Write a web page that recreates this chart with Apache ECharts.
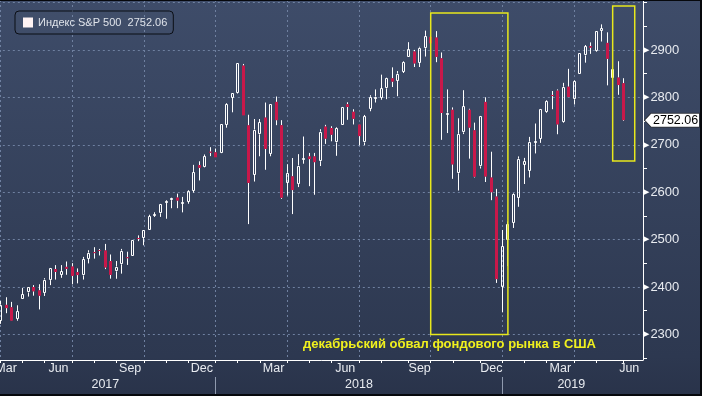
<!DOCTYPE html>
<html><head><meta charset="utf-8">
<script src="https://cdn.jsdelivr.net/npm/echarts@6/dist/echarts.min.js"></script>
<style>
html,body{margin:0;padding:0;background:#000;overflow:hidden;}
#c{position:absolute;left:0;top:0;width:702px;height:396px;}
.edge{position:absolute;background:#06080c;}
</style></head><body>
<div id="c"></div>
<div class="edge" style="left:0;top:0;width:702px;height:1px"></div>
<div class="edge" style="left:0;top:394px;width:702px;height:2px"></div>
<div class="edge" style="left:700px;top:0;width:2px;height:396px"></div>
<script>
// ---- data ----
const weeks = [
'2017-03-31','2017-04-07','2017-04-14','2017-04-21','2017-04-28','2017-05-05','2017-05-12','2017-05-19','2017-05-26','2017-06-02',
'2017-06-09','2017-06-16','2017-06-23','2017-06-30','2017-07-07','2017-07-14','2017-07-21','2017-07-28','2017-08-04','2017-08-11',
'2017-08-18','2017-08-25','2017-09-01','2017-09-08','2017-09-15','2017-09-22','2017-09-29','2017-10-06','2017-10-13','2017-10-20',
'2017-10-27','2017-11-03','2017-11-10','2017-11-17','2017-11-24','2017-12-01','2017-12-08','2017-12-15','2017-12-22','2017-12-29',
'2018-01-05','2018-01-12','2018-01-19','2018-01-26','2018-02-02','2018-02-09','2018-02-16','2018-02-23','2018-03-02','2018-03-09',
'2018-03-16','2018-03-23','2018-03-30','2018-04-06','2018-04-13','2018-04-20','2018-04-27','2018-05-04','2018-05-11','2018-05-18',
'2018-05-25','2018-06-01','2018-06-08','2018-06-15','2018-06-22','2018-06-29','2018-07-06','2018-07-13','2018-07-20','2018-07-27',
'2018-08-03','2018-08-10','2018-08-17','2018-08-24','2018-08-31','2018-09-07','2018-09-14','2018-09-21','2018-09-28','2018-10-05',
'2018-10-12','2018-10-19','2018-10-26','2018-11-02','2018-11-09','2018-11-16','2018-11-23','2018-11-30','2018-12-07','2018-12-14',
'2018-12-21','2018-12-28','2019-01-04','2019-01-11','2019-01-18','2019-01-25','2019-02-01','2019-02-08','2019-02-15','2019-02-22',
'2019-03-01','2019-03-08','2019-03-15','2019-03-22','2019-03-29','2019-04-05','2019-04-12','2019-04-19','2019-04-26','2019-05-03',
'2019-05-10','2019-05-17','2019-05-24','2019-05-31','2019-06-07','2019-06-14','2019-06-21'
];
const open = [
2329.1,2362.3,2357.2,2332.6,2374.2,2388.5,2400.0,2393.0,2387.2,2414.5,
2437.8,2425.9,2442.5,2443.3,2431.4,2424.5,2459.5,2473.0,2477.1,2477.1,
2454.9,2433.0,2447.9,2462.3,2464.5,2502.5,2503.2,2521.2,2550.2,2555.6,
2578.1,2583.2,2588.7,2577.8,2579.5,2602.7,2657.2,2652.2,2685.5,2684.2,
2683.7,2742.7,2799.0,2809.2,2867.2,2741.1,2636.8,2722.0,2757.4,2681.1,
2790.5,2741.4,2619.4,2633.5,2617.2,2670.1,2675.4,2675.5,2665.4,2738.5,
2735.4,2705.1,2741.7,2785.6,2769.7,2742.9,2705.0,2775.6,2796.9,2799.2,
2819.0,2840.3,2835.5,2853.9,2884.7,2897.0,2872.5,2903.8,2927.7,2926.3,
2882.5,2763.8,2773.9,2640.0,2726.4,2773.9,2730.7,2654.6,2790.5,2630.9,
2590.8,2400.6,2498.8,2535.6,2588.1,2657.9,2645.0,2706.5,2712.4,2769.3,
2804.4,2814.4,2747.6,2822.6,2796.0,2848.6,2888.5,2908.3,2898.8,2940.6,
2915.0,2840.2,2841.9,2830.0
];
const high = [
2370.4,2378.4,2368.6,2361.4,2398.2,2399.3,2404.0,2405.8,2418.7,2440.2,
2446.2,2446.2,2453.8,2450.4,2439.2,2463.5,2477.6,2484.0,2480.4,2490.9,
2468.6,2454.8,2480.4,2474.5,2500.2,2508.9,2519.4,2552.5,2557.7,2575.4,
2583.0,2588.4,2597.0,2590.1,2604.2,2657.7,2665.2,2679.6,2695.0,2692.1,
2743.5,2787.9,2810.3,2872.9,2870.6,2763.4,2754.4,2754.4,2789.2,2786.6,
2801.9,2752.0,2659.1,2672.1,2680.3,2717.5,2682.9,2682.9,2732.9,2742.1,
2739.2,2736.9,2779.9,2789.8,2775.0,2743.3,2763.0,2804.6,2816.8,2848.0,
2841.6,2863.4,2855.6,2876.2,2916.5,2900.2,2906.8,2940.9,2939.9,2939.9,
2894.8,2816.9,2778.9,2756.0,2815.2,2776.0,2746.8,2760.9,2800.2,2685.4,
2607.0,2520.3,2538.1,2597.8,2675.5,2672.4,2716.7,2744.9,2775.7,2794.2,
2813.5,2816.9,2830.7,2860.3,2836.0,2893.4,2910.5,2916.1,2939.9,2954.1,
2937.3,2875.0,2876.3,2840.5
];
const low = [
2322.3,2344.7,2328.5,2328.9,2374.2,2379.8,2381.7,2352.7,2381.1,2403.9,
2415.7,2419.4,2425.8,2405.7,2407.7,2415.7,2449.8,2459.9,2466.5,2437.8,
2417.6,2417.4,2428.2,2446.6,2464.5,2496.7,2488.0,2520.4,2547.9,2547.9,
2544.0,2566.2,2566.3,2557.5,2575.7,2599.0,2624.8,2651.5,2676.1,2673.6,
2682.4,2736.1,2768.6,2808.1,2762.1,2532.7,2622.5,2675.8,2647.3,2675.8,
2741.4,2585.9,2593.0,2553.8,2610.8,2660.1,2612.7,2594.6,2655.2,2701.9,
2707.4,2676.8,2741.7,2752.7,2742.9,2698.7,2699.0,2770.8,2789.2,2795.0,
2796.3,2821.9,2802.5,2851.5,2884.7,2864.1,2864.1,2886.2,2904.7,2874.3,
2710.5,2724.8,2628.2,2603.5,2722.6,2670.8,2631.1,2650.0,2621.5,2583.2,
2408.6,2346.6,2444.0,2524.6,2569.2,2617.3,2631.1,2681.8,2704.1,2767.6,
2775.1,2722.3,2746.2,2800.5,2785.0,2848.6,2873.3,2891.9,2896.4,2917.9,
2825.4,2801.4,2805.5,2750.5
];
const close = [
2362.7,2355.5,2329.0,2348.7,2384.2,2399.3,2390.9,2381.7,2415.8,2439.1,
2431.8,2433.2,2438.3,2423.4,2425.2,2459.3,2472.5,2472.1,2476.8,2441.3,
2425.6,2443.1,2476.6,2461.4,2500.2,2502.2,2519.4,2549.3,2553.2,2575.2,
2581.1,2587.8,2582.3,2578.9,2602.4,2642.2,2651.5,2675.8,2683.3,2673.6,
2743.2,2786.2,2810.3,2872.9,2762.1,2619.6,2732.2,2747.3,2691.3,2786.6,
2752.0,2588.3,2640.9,2604.5,2656.3,2670.1,2669.9,2663.4,2727.7,2713.0,
2721.3,2734.6,2779.0,2779.7,2754.9,2718.4,2759.8,2801.3,2801.8,2818.8,
2840.4,2833.3,2850.1,2874.7,2901.5,2871.7,2905.0,2929.7,2914.0,2885.6,
2767.1,2767.8,2658.7,2723.1,2781.0,2736.3,2632.6,2760.2,2633.1,2600.0,
2416.6,2485.7,2531.9,2596.3,2670.7,2664.8,2706.5,2707.9,2775.6,2792.7,
2803.7,2743.1,2822.5,2800.7,2834.4,2892.7,2907.4,2905.0,2939.9,2945.6,
2881.4,2859.5,2826.1,2752.06
];
const seriesName = 'Индекс S&P 500';
const yTickLabels = [2300, 2400, 2500, 2600, 2700, 2800, 2900];
const yMinorTicks = [2250, 2300, 2350, 2400, 2450, 2500, 2550, 2600, 2650, 2700, 2750, 2800, 2850, 2900, 2950, 3000];
const yGridValues = [2300, 2400, 2500, 2600, 2700, 2800, 2900, 3000];
const quarterMonths = { 3: 'Mar', 6: 'Jun', 9: 'Sep', 12: 'Dec' };
const crashBox = ['2018-09-28', 2300, '2019-01-04', 2978];
const recentBox = ['2019-05-17', 2666, '2019-06-14', 2993];
const annotation = 'декабрьский обвал фондового рынка в США';

// ---- helpers ----
const N = weeks.length;
const mkey = i => weeks[i].slice(0, 7);
const ykey = i => weeks[i].slice(0, 4);
const monthEnd = i => i < N - 1 && mkey(i + 1) !== mkey(i);
const yearEnd = i => i < N - 1 && ykey(i + 1) !== ykey(i);
const quarterEnd = i => i === 0 || (monthEnd(i) && !!quarterMonths[+weeks[i].slice(5, 7)]);

function groupLabels(keyFn, textFn, lo, hi) {
  const out = {};
  let i = 0;
  while (i < N) {
    let j = i;
    while (j + 1 < N && keyFn(j + 1) === keyFn(i)) j++;
    const t = textFn(i);
    if (t) {
      let mid = (i - 1 + j) / 2;
      mid = Math.max(lo, Math.min(hi, mid));
      const k = Math.floor(mid);
      out[k] = { text: t, half: mid - k > 0.25 };
    }
    i = j + 1;
  }
  return out;
}
const monthLabels = groupLabels(mkey, i => quarterMonths[+weeks[i].slice(5, 7)], 1, N - 3);
const yearLabels = groupLabels(ykey, i => ykey(i), 0, N - 1);

const candles = open.map((o, i) => [i, o, close[i], low[i], high[i]]);
const boxes = [crashBox, recentBox].map(b => [weeks.indexOf(b[0]), b[1], weeks.indexOf(b[2]), b[3]]);
const lastClose = close[close.length - 1];

const tag = document.createElement('canvas');
tag.width = 120; tag.height = 30;
(function () {
  const g = tag.getContext('2d');
  g.beginPath(); g.moveTo(1, 15); g.lineTo(15, 1); g.lineTo(119, 1); g.lineTo(119, 29); g.lineTo(15, 29); g.closePath();
  g.fillStyle = '#ffffff'; g.fill(); g.strokeStyle = '#30343c'; g.lineWidth = 2; g.stroke();
})();

const FONT = 'Liberation Sans';
const TXT = '#e8ebf0';
const GRID = '#6f80a0';

function renderCandle(params, api) {
  const i = api.value(0), o = api.value(1), c = api.value(2), l = api.value(3), h = api.value(4);
  const pO = api.coord([i, o]), pC = api.coord([i, c]), pL = api.coord([i, l]), pH = api.coord([i, h]);
  const x = Math.floor(pO[0]) + 0.5;
  let top = Math.min(pO[1], pC[1]), bot = Math.max(pO[1], pC[1]);
  if (bot - top < 1) { const m = (top + bot) / 2; top = m - 0.5; bot = m + 0.5; }
  const white = '#ffffff', red = '#c8184a';
  const ch = [
    { type: 'line', shape: { x1: x, y1: pH[1], x2: x, y2: top }, style: { stroke: white, lineWidth: 1 } },
    { type: 'line', shape: { x1: x, y1: bot, x2: x, y2: pL[1] }, style: { stroke: white, lineWidth: 1 } }
  ];
  if (c >= o) {
    const t = Math.round(top) + 0.5, b = Math.max(Math.round(bot) - 0.5, t + 1);
    ch.push({ type: 'rect', shape: { x: x - 1, y: t, width: 2, height: b - t }, style: { fill: 'none', stroke: white, lineWidth: 1 } });
  } else {
    ch.push({ type: 'rect', shape: { x: x - 1.5, y: top, width: 3, height: bot - top }, style: { fill: red } });
  }
  return { type: 'group', children: ch };
}
function renderBox(params, api) {
  const p1 = api.coord([api.value(0), api.value(1)]);
  const p2 = api.coord([api.value(2), api.value(3)]);
  return { type: 'rect', shape: { x: Math.min(p1[0], p2[0]), y: Math.min(p1[1], p2[1]), width: Math.abs(p2[0] - p1[0]), height: Math.abs(p2[1] - p1[1]) },
    style: { fill: 'none', stroke: '#e8e81c', lineWidth: 1.5 } };
}

const chart = echarts.init(document.getElementById('c'), null, { renderer: 'canvas' });
const labelRich = (fs) => ({
  n: { fontSize: fs, color: TXT, fontFamily: FONT },
  h: { fontSize: fs, color: TXT, fontFamily: FONT, padding: [0, 0, 0, 5.5] }
});
chart.setOption({
  animation: false,
  backgroundColor: new echarts.graphic.LinearGradient(0, 0, 0, 1, [
    { offset: 0, color: '#3e4c69' }, { offset: 0.9, color: '#2d3850' }, { offset: 1, color: '#29334a' }
  ]),
  textStyle: { fontFamily: FONT },
  legend: {
    left: 15, top: 11, padding: [6, 6, 6, 8], itemWidth: 10, itemHeight: 10, itemGap: 5,
    backgroundColor: 'rgba(255,255,255,0.02)', borderColor: '#0b0e15', borderWidth: 1, borderRadius: 4,
    data: [{ name: seriesName, icon: 'rect', itemStyle: { color: '#fff3f3', borderWidth: 0 } }],
    formatter: n => n + '  ' + lastClose.toFixed(2),
    textStyle: { color: '#dfe3ea', fontSize: 11, fontFamily: FONT }
  },
  grid: { left: -2.16, right: 59, top: 0, bottom: 36, containLabel: false, outerBoundsMode: 'none' },
  xAxis: [{
    type: 'category', data: weeks, boundaryGap: true,
    axisLine: { show: true, lineStyle: { color: '#ffffff', width: 1 } },
    axisTick: { show: true, alignWithLabel: true, interval: i => monthEnd(i), length: 3, lineStyle: { color: '#ffffff' } },
    axisLabel: {
      interval: i => !!monthLabels[i], margin: 2, fontSize: 12.5, color: TXT,
      formatter: (v, i) => monthLabels[i] ? '{' + (monthLabels[i].half ? 'h' : 'n') + '|' + monthLabels[i].text + '}' : '',
      rich: labelRich(12.5)
    },
    splitLine: { show: true, alignWithLabel: true, interval: i => quarterEnd(i), lineStyle: { color: GRID, width: 1, type: [2, 3] } }
  }, {
    type: 'category', data: weeks, boundaryGap: true, position: 'bottom', offset: 17,
    axisLine: { show: false },
    axisTick: { show: true, alignWithLabel: true, interval: i => yearEnd(i), length: 19, lineStyle: { color: '#8f9aae' } },
    axisLabel: {
      interval: i => !!yearLabels[i], margin: 1, fontSize: 12.5, color: TXT,
      formatter: (v, i) => yearLabels[i] ? '{' + (yearLabels[i].half ? 'h' : 'n') + '|' + yearLabels[i].text + '}' : '',
      rich: labelRich(12.5)
    },
    splitLine: { show: false }
  }],
  yAxis: [{
    type: 'value', position: 'right', min: 2246, max: 3005.5, scale: true,
    axisLine: { show: true, lineStyle: { color: '#ffffff', width: 1 } },
    axisTick: { show: true, customValues: yMinorTicks, length: 4, lineStyle: { color: '#ffffff' } },
    axisLabel: {
      customValues: yTickLabels, margin: 1,
      formatter: v => '{t|\u25B6}{v|' + v + '}',
      rich: {
        t: { fontSize: 7, color: '#ffffff', fontFamily: 'DejaVu Sans', padding: [0, 1, 0, 0] },
        v: { fontSize: 13, color: TXT, fontFamily: FONT }
      }
    },
    splitLine: { show: false }
  }, {
    type: 'value', position: 'right', min: 2246, max: 3005.5, scale: true,
    axisLine: { show: false },
    axisTick: { show: false, customValues: yGridValues },
    axisLabel: {
      customValues: [lastClose], margin: 1,
      formatter: v => v.toFixed(2),
      color: '#000000', fontSize: 12.5, fontFamily: FONT, lineHeight: 14,
      padding: [1, 2, 0, 9], backgroundColor: { image: tag }
    },
    splitLine: { show: true, lineStyle: { color: GRID, width: 1, type: [2, 3] } }
  }],
  series: [{
    name: seriesName, type: 'custom', xAxisIndex: 0, yAxisIndex: 0,
    itemStyle: { color: '#fff3f3' },
    renderItem: renderCandle, data: candles, encode: { x: 0, y: [1, 2, 3, 4] }, z: 3
  }, {
    name: 'boxes', type: 'custom', xAxisIndex: 0, yAxisIndex: 0,
    renderItem: renderBox, data: boxes, encode: { x: [0, 2], y: [1, 3] }, z: 5, silent: true
  }],
  graphic: [{
    type: 'text', left: 303, top: 338, z: 10,
    style: { text: annotation, fill: '#f0f01e', font: 'bold 13px "Liberation Sans"' }
  }]
});
</script>
</body></html>
